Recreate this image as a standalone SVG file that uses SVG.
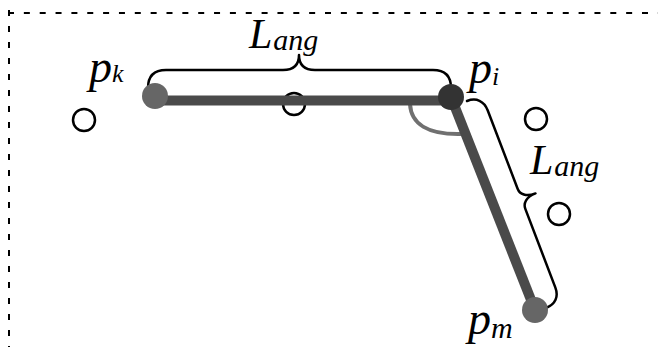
<svg xmlns="http://www.w3.org/2000/svg" width="658" height="347" viewBox="0 0 658 347">
  <style>
    .frame { stroke: #000; stroke-width: 2; fill: none; }
    .brace { stroke: #000; stroke-width: 2.5; fill: none; stroke-linecap: round; stroke-linejoin: round; }
    .hollow { stroke: #000; stroke-width: 2.5; fill: #fff; }
    .bar { stroke: #4a4a4a; stroke-width: 10; fill: none; }
    .angle { stroke: #707070; stroke-width: 4; fill: none; }
    .lbl { font-family: "Liberation Serif", "Times New Roman", serif; font-style: italic; fill: #000; }
  </style>
  <rect width="658" height="347" fill="#fff"/>
  <g id="frame">
    <line class="frame" x1="8" y1="13" x2="658" y2="13" stroke-dasharray="6 9.85"/>
    <line class="frame" x1="9" y1="10" x2="9" y2="347" stroke-dasharray="6 10"/>
  </g>
  <g id="angle-arc">
    <path class="angle" d="M410,104 C411,124 428,135 462,134"/>
  </g>
  <g id="o1"><circle class="hollow" cx="84" cy="120" r="11"/></g>
  <g id="o2"><circle class="hollow" cx="294" cy="104" r="11"/></g>
  <g id="o3"><circle class="hollow" cx="536" cy="119" r="11"/></g>
  <g id="o4"><circle class="hollow" cx="559" cy="214" r="11"/></g>
  <g id="connectors">
    <line class="bar" x1="155" y1="100.5" x2="451" y2="100.5"/>
    <line class="bar" x1="451" y1="97" x2="535" y2="310"/>
    <path class="brace" d="M148,88 C148,76 154,70 166,70 L283,70 C293,70 299,65 299,55 C299,65 305,70 315,70 L433,70 C445,70 451,76 451,88"/>
    <path class="brace" transform="translate(467,101) rotate(69.1)" d="M0,0 C0,-10 6,-16 16,-16 L100,-16 C106,-16 110.8,-21 110.8,-31 C110.8,-21 115.6,-16 121.6,-16 L205.6,-16 C215.6,-16 221.6,-10 221.6,0"/>
  </g>
  <g id="pk">
    <circle cx="155" cy="96" r="13" fill="#666"/>
    <text class="lbl" x="89" y="82" font-size="46">p<tspan font-size="26" dy="0">k</tspan></text>
  </g>
  <g id="pi">
    <circle cx="451" cy="97" r="13" fill="#333"/>
    <text class="lbl" x="469" y="83" font-size="46">p<tspan font-size="26" dy="2">i</tspan></text>
  </g>
  <g id="pm">
    <circle cx="535" cy="310" r="13" fill="#666"/>
    <text class="lbl" x="468" y="334" font-size="46">p<tspan font-size="30" dy="4">m</tspan></text>
  </g>
  <g id="label-top">
    <text class="lbl" x="249" y="48" font-size="42">L<tspan font-size="30" dx="1" dy="2">ang</tspan></text>
  </g>
  <g id="label-diag">
    <text class="lbl" x="530" y="174" font-size="42">L<tspan font-size="30" dx="1" dy="2">ang</tspan></text>
  </g>
</svg>
